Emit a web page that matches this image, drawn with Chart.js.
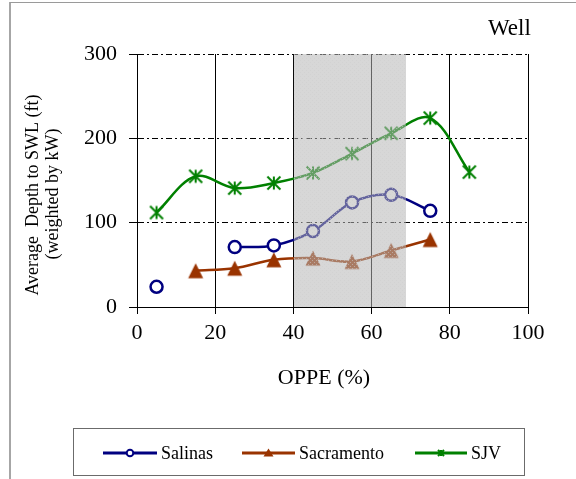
<!DOCTYPE html>
<html>
<head>
<meta charset="utf-8">
<script src="https://cdn.jsdelivr.net/npm/chart.js@4.4.0/dist/chart.umd.min.js"></script>
<style>
  html, body { margin: 0; padding: 0; background: #fff; }
  canvas { display: block; }
</style>
</head>
<body>
<canvas id="c" width="576" height="479"></canvas>
<script>
// OPPE bins (%) and average depth to standing water level (ft, kW-weighted)
const oppe       = [5, 15, 25, 35, 45, 55, 65, 75, 85];
const salinas    = [24, null, 71, 73, 90, 124, 133, 114, null];
const sacramento = [null, 43, 46, 56, 58, 54, 67, 80, null];
const sjv        = [112, 155, 141, 147, 159, 182, 206, 224, 160];

const xTicks = [0, 20, 40, 60, 80, 100];
const yTicks = [0, 100, 200, 300];
const shadeRange = [40, 68.8];   // highlighted OPPE band

const seriesNames = ['Salinas', 'Sacramento', 'SJV'];
const chartTitle = 'Well';
const xTitle = 'OPPE (%)';
const yTitleLines = ['Average  Depth to SWL (ft)', '(weighted by kW)'];

const SERIF = "'Liberation Serif', 'Times New Roman', Times, serif";
const NAVY = '#000080', BROWN = '#993300', GREEN = '#008000';

// ---- marker painters ----
function paintCircle(ctx, x, y, r, color, lw) {
  ctx.save();
  ctx.beginPath();
  ctx.arc(x, y, r, 0, Math.PI * 2);
  ctx.fillStyle = '#fff';
  ctx.fill();
  ctx.lineWidth = lw;
  ctx.strokeStyle = color;
  ctx.stroke();
  ctx.restore();
}
function paintTriangle(ctx, x, y, w, h, color) {
  ctx.save();
  ctx.beginPath();
  ctx.moveTo(x, y - h / 2);
  ctx.lineTo(x + w / 2, y + h / 2);
  ctx.lineTo(x - w / 2, y + h / 2);
  ctx.closePath();
  ctx.fillStyle = color;
  ctx.fill();
  ctx.restore();
}
function paintStar(ctx, x, y, r, color, lw) {
  ctx.save();
  ctx.beginPath();
  ctx.moveTo(x, y - r); ctx.lineTo(x, y + r);
  ctx.moveTo(x - r, y - r); ctx.lineTo(x + r, y + r);
  ctx.moveTo(x + r, y - r); ctx.lineTo(x - r, y + r);
  ctx.lineWidth = lw;
  ctx.strokeStyle = color;
  ctx.lineCap = 'butt';
  ctx.stroke();
  ctx.restore();
}
function markerImage(size, paint) {
  const cv = document.createElement('canvas');
  cv.width = size; cv.height = size;
  paint(cv.getContext('2d'), size / 2, size / 2);
  return cv;
}
const triangleMarker = markerImage(18, (g, cx, cy) => paintTriangle(g, cx, cy, 15, 15, BROWN));
const starMarker = markerImage(18, (g, cx, cy) => paintStar(g, cx, cy, 6.5, GREEN, 2));

const toPoints = (vals) => oppe.map((x, i) => ({ x, y: vals[i] }));

// ---- page furniture: frame, shaded band, titles, legend ----
const framePlugin = {
  id: 'frame',
  beforeDraw(chart) {
    const ctx = chart.ctx;
    ctx.save();
    ctx.fillStyle = '#fff';
    ctx.fillRect(0, 0, chart.width, chart.height);
    ctx.strokeStyle = '#a6a6a6';
    ctx.lineWidth = 2;
    ctx.beginPath();
    ctx.moveTo(10, 2); ctx.lineTo(10, chart.height);
    ctx.stroke();
    ctx.strokeStyle = '#9a9a9a';
    ctx.lineWidth = 1;
    ctx.beginPath();
    ctx.moveTo(10, 2.5); ctx.lineTo(chart.width, 2.5);
    ctx.stroke();
    ctx.restore();
  }
};

function shadePattern(ctx) {
  const cv = document.createElement('canvas');
  cv.width = 4; cv.height = 4;
  const g = cv.getContext('2d');
  g.fillStyle = 'rgba(182,182,182,0.55)';
  g.fillRect(0, 0, 4, 4);
  g.fillStyle = 'rgba(205,205,205,0.55)';
  g.fillRect(0, 0, 1, 1);
  g.fillRect(2, 2, 1, 1);
  return ctx.createPattern(cv, 'repeat');
}

const shadePlugin = {
  id: 'shade',
  afterDatasetsDraw(chart) {
    const { ctx, scales: { x, y } } = chart;
    const x0 = x.getPixelForValue(shadeRange[0]);
    const x1 = x.getPixelForValue(shadeRange[1]);
    const yTop = y.getPixelForValue(y.max);
    const yBot = y.getPixelForValue(y.min);
    ctx.save();
    ctx.fillStyle = shadePattern(ctx);
    ctx.fillRect(x0 + 0.5, yTop, x1 - x0 - 0.5, yBot - yTop);
    ctx.restore();
  }
};

const textPlugin = {
  id: 'texts',
  afterDraw(chart) {
    const ctx = chart.ctx;
    ctx.save();
    ctx.fillStyle = '#000';

    // corner title
    ctx.font = '23px ' + SERIF;
    ctx.textAlign = 'left';
    ctx.textBaseline = 'alphabetic';
    ctx.fillText(chartTitle, 488, 35);

    // x axis title
    ctx.font = '22px ' + SERIF;
    ctx.textAlign = 'center';
    ctx.textBaseline = 'middle';
    ctx.fillText(xTitle, 324, 378);

    // y axis title (two rotated lines)
    ctx.font = '18px ' + SERIF;
    const yCentres = [[33, 195], [53, 194]];
    yTitleLines.forEach((t, i) => {
      ctx.save();
      ctx.translate(yCentres[i][0], yCentres[i][1]);
      ctx.rotate(-Math.PI / 2);
      ctx.textAlign = 'center';
      ctx.textBaseline = 'middle';
      ctx.fillText(t, 0, 0);
      ctx.restore();
    });

    // legend box
    ctx.strokeStyle = '#6b6b6b';
    ctx.lineWidth = 1;
    ctx.strokeRect(73.5, 428.5, 451, 47);

    const ly = 453;
    const items = [
      { x0: 103, x1: 157, color: NAVY, mark: (cx) => paintCircle(ctx, cx, ly, 3.3, NAVY, 2) },
      { x0: 242, x1: 295, color: BROWN, mark: (cx) => paintTriangle(ctx, cx, ly - 0.5, 10, 8, BROWN) },
      { x0: 415, x1: 467, color: GREEN, mark: (cx) => paintStar(ctx, cx, ly, 3, GREEN, 2) }
    ];
    ctx.font = '18px ' + SERIF;
    ctx.textAlign = 'left';
    ctx.textBaseline = 'alphabetic';
    items.forEach((it, i) => {
      ctx.save();
      ctx.strokeStyle = it.color;
      ctx.lineWidth = 3;
      ctx.beginPath();
      ctx.moveTo(it.x0, ly); ctx.lineTo(it.x1, ly);
      ctx.stroke();
      ctx.restore();
      it.mark((it.x0 + it.x1) / 2);
      ctx.fillStyle = '#000';
      ctx.fillText(seriesNames[i], it.x1 + 4, ly + 6);
    });

    ctx.restore();
  }
};

new Chart(document.getElementById('c'), {
  type: 'line',
  data: {
    datasets: [
      {
        label: seriesNames[0],
        data: toPoints(salinas),
        borderColor: NAVY,
        borderWidth: 2.5,
        pointStyle: 'circle',
        pointRadius: 6,
        pointBorderWidth: 2.5,
        pointBackgroundColor: '#fff',
        pointBorderColor: NAVY,
        tension: 0.35,
        spanGaps: false
      },
      {
        label: seriesNames[1],
        data: toPoints(sacramento),
        borderColor: BROWN,
        borderWidth: 2.5,
        pointStyle: triangleMarker,
        tension: 0.35,
        spanGaps: false
      },
      {
        label: seriesNames[2],
        data: toPoints(sjv),
        borderColor: GREEN,
        borderWidth: 2.5,
        pointStyle: starMarker,
        tension: 0.35,
        spanGaps: false
      }
    ]
  },
  options: {
    responsive: false,
    animation: false,
    devicePixelRatio: 1,
    layout: { padding: { left: 0, top: 54, right: 48, bottom: 112 } },
    plugins: {
      legend: { display: false },
      tooltip: { enabled: false },
      title: { display: false }
    },
    scales: {
      x: {
        type: 'linear',
        min: 0,
        max: 100,
        afterBuildTicks: (s) => { s.ticks = xTicks.map(v => ({ value: v })); },
        afterFit: (s) => { s.height = 60; },
        ticks: {
          color: '#000',
          padding: 6,
          maxRotation: 0,
          font: { family: SERIF, size: 22 }
        },
        grid: { color: '#000', lineWidth: 1, tickLength: 7 },
        border: { color: '#000', width: 1 }
      },
      y: {
        min: 0,
        max: 300,
        afterBuildTicks: (s) => { s.ticks = yTicks.map(v => ({ value: v })); },
        afterFit: (s) => { s.width = 137; },
        ticks: {
          color: '#000',
          padding: 12,
          font: { family: SERIF, size: 22 }
        },
        grid: { color: '#000', lineWidth: 1, tickLength: 8, tickBorderDash: [] },
        border: { color: '#000', width: 1, dash: [6, 3, 2, 3] }
      }
    }
  },
  plugins: [framePlugin, shadePlugin, textPlugin]
});
</script>
</body>
</html>
